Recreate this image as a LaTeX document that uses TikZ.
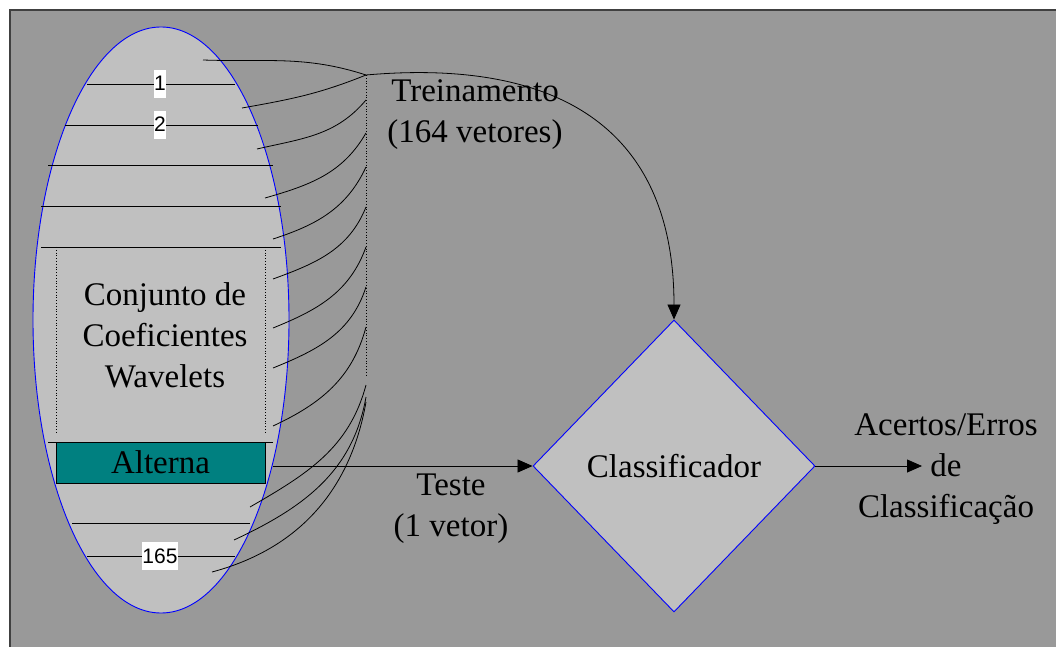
\documentclass[tikz,border=0pt]{standalone}
\usepackage{fontspec}
\setmainfont{Liberation Serif}
\newfontfamily\arialfont{Liberation Sans}
\usepackage{tikz}
\usetikzlibrary{shapes.geometric,arrows.meta,positioning}
\definecolor{fundo}{HTML}{999999}
\definecolor{prata}{HTML}{C0C0C0}
\definecolor{verdeazul}{HTML}{008080}
\tikzset{
	texto/.style={font=\fontsize{33}{41}\selectfont, align=center, inner sep=0pt},
	numero/.style={fill=white, font=\arialfont\fontsize{21}{21}\selectfont, inner xsep=0.5pt, inner ysep=1pt, text height=20pt, text depth=6pt},
	seta/.style={-{Triangle[length=15pt,width=13pt]}, line width=0.8pt},
	fio/.style={line width=0.8pt},
	borda/.style={draw=blue, fill=prata, line width=0.9pt},
	pontilhado/.style={dotted, line width=0.8pt},
}

\begin{document}
\begin{tikzpicture}[x=1pt,y=1pt]
		\clip (0,0) rectangle (1056,646);
		\draw[fill=fundo, draw=black!75, line width=1.5pt] (10,-20) rectangle (1080,636);
		\node[ellipse, borda, minimum width=256pt, minimum height=586pt, inner sep=0pt] (conjunto) at (161,326) {};
		\draw[fio] (87,562) -- (235,562);
		\draw[fio] (65,521) -- (258,521);
		\draw[fio] (48,481) -- (273,481);
		\draw[fio] (41,440) -- (281,440);
		\draw[fio] (41,399) -- (281,399);
		\draw[fio] (48,204) -- (273,204);
		\draw[fio] (72,123) -- (250,123);
		\draw[fio] (87,90) -- (235,90);
		\draw[pontilhado] (56,399) -- (56,212);
		\draw[pontilhado] (265,399) -- (265,212);
		\draw[pontilhado] (366,571) -- (366,269);
		\node[numero] (n1) at (160,562) {1};
		\node[numero] (n2) at (160,521) {2};
		\node[numero] (n165) at (160,90) {165};
		\node[texto] (coef) at (165,311) {Conjunto de\\Coeficientes\\Wavelets};
		\node[texto, draw=black, fill=verdeazul, minimum width=209pt, minimum height=41pt] (alterna) at (160.5,183.5) {Alterna};
		\node[texto, diamond, borda, minimum width=282pt, minimum height=292pt] (classif) at (674,180) {Classificador};
		\node[texto] (treino) at (475,531.5) {Treinamento\\(164 vetores)};
		\node[texto] (teste) at (451,137.5) {Teste\\(1 vetor)};
		\node[texto] (resultado) at (946,177) {Acertos/Erros\\de\\Classificação};
		\foreach \k/\lx/\ly/\ry/\a/\b in {1/203/586/571/-2/162, 2/242/538/571/10/-158, 3/257/497/546/13/-130, 4/265/448/513/16/-120, 5/273/407/479/18/-115, 6/273/367/439/20/-112, 7/273/318/399/22/-110, 8/273/278/359/22/-108, 9/273/220/319/25/-105, 10/250/139/261/30/-105, 11/234/106/249/25/-100, 12/212/74/244/15/-100} {
			\coordinate (e\k) at (\lx,\ly);
			\coordinate (d\k) at (366,\ry);
			\draw[fio] (e\k) to[out=\a,in=\b] (d\k);
		}
		\coordinate (saida) at (922,180);
		\draw[seta] (d1) to[out=5,in=90,looseness=1.25] (classif.north);
		\draw[seta, shorten <=8pt] (alterna.east |- classif.west) -- (classif.west);
		\draw[seta] (classif.east) -- (saida);
	\end{tikzpicture}
\end{document}
